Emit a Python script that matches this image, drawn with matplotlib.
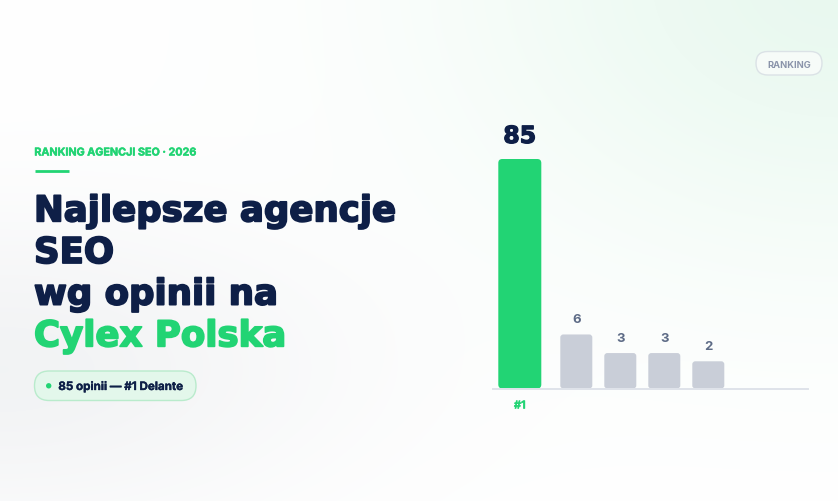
import numpy as np
import matplotlib
matplotlib.use('Agg')
import matplotlib.pyplot as plt
import matplotlib.patheffects as pe
from matplotlib.patches import FancyBboxPatch, Circle

# ---- data ----
values = [85, 6, 3, 3, 2]
value_labels = ['85', '6', '3', '3', '2']
rank_labels = ['#1', '', '', '', '']
kicker = 'RANKING AGENCJI SEO · 2026'
title_lines = ['Najlepsze agencje', 'SEO', 'wg opinii na']
title_accent = 'Cylex Polska'
badge_text = '85 opinii — #1 Delante'
corner_tag = 'RANKING'

W, H, DPI = 838, 502, 100
NAVY = '#0e1f47'
GREEN = '#22d474'
GRAY_BAR = '#c9ced8'
GRAY_TXT = '#5d6b86'
TITLE_FONT = ['DejaVu Sans']
BODY_FONT = ['Inter', 'DejaVu Sans']


def heavy(color, w=1.1):
    return [pe.withStroke(linewidth=w, foreground=color)]


fig = plt.figure(figsize=(W / DPI, H / DPI), dpi=DPI)
renderer = fig.canvas.get_renderer()

# background layer in pixel coordinates (y downwards)
bg = fig.add_axes([0, 0, 1, 1])
bg.axis('off')
yy, xx = np.mgrid[0:H, 0:W].astype(float)
img = np.ones((H, W, 3))
g = np.exp(-(((W - xx) / 380) ** 2 + ((yy + 20) / 280) ** 2))
green_tint = np.array([0.915, 0.975, 0.94])
img = img * (1 - g[..., None]) + green_tint * g[..., None]
gg = 0.85 * np.exp(-((xx / 330) ** 2 + ((yy - 370) / 150) ** 2))
gray_tint = np.array([0.94, 0.945, 0.952])
img = img * (1 - gg[..., None]) + gray_tint * gg[..., None]
bg.imshow(img, extent=(0, W, H, 0), aspect='auto', interpolation='bilinear', zorder=0)
bg.set_xlim(0, W)
bg.set_ylim(H, 0)


def fit(t, target):
    w = t.get_window_extent(renderer).width
    t.set_fontsize(t.get_fontsize() * target / w)


# ---- chart ----
base_px, top_px = 389.5, 160.0
ax = fig.add_axes([493 / W, (H - base_px) / H, 315 / W, (base_px - top_px) / H])
ax.patch.set_alpha(0)
ax.set_yscale('function', functions=(lambda v: np.sqrt(np.clip(v, 0, None)), np.square))
ax.set_ylim(0.133, max(values))
ax.set_xlim(0, 315)

widths = [43 if i == 0 else 32 for i in range(len(values))]
xs = []
cur = 5.3
for i, w in enumerate(widths):
    xs.append(cur + w / 2)
    cur += w + (19 if i == 0 else 12)
colors = [GREEN if i == 0 else GRAY_BAR for i in range(len(values))]

bars = ax.bar(xs, values, width=widths, color=colors)
ax_bb = ax.get_window_extent(renderer)
inv = bg.transData.inverted()
for rect, c, i in zip(bars, colors, range(len(values))):
    bb = rect.get_window_extent(renderer)
    y0 = max(bb.y0, ax_bb.y0)
    (px0, py0) = inv.transform((bb.x0, bb.y1))
    (px1, py1) = inv.transform((bb.x1, y0))
    rect.set_visible(False)
    r = 4 if i == 0 else 3
    bg.add_patch(FancyBboxPatch((px0, py0), px1 - px0, py1 - py0,
                                boxstyle=f'round,pad=0,rounding_size={r}',
                                fc=c, ec='none', zorder=3))

for sp in ['top', 'right', 'left']:
    ax.spines[sp].set_visible(False)
ax.spines['bottom'].set_color('#dfe3ea')
ax.spines['bottom'].set_linewidth(1.4)
ax.set_xticks([])
ax.set_yticks([])
ax.minorticks_off()
ax.tick_params(which='both', left=False, labelleft=False)

for i, (x, v, lab) in enumerate(zip(xs, values, value_labels)):
    if i == 0:
        ax.annotate(lab, (x, v), xytext=(0, 11), textcoords='offset pixels',
                    ha='center', va='bottom', color=NAVY, fontsize=17,
                    fontweight='bold', family=TITLE_FONT, path_effects=heavy(NAVY, 0.9))
    else:
        ax.annotate(lab, (x, v), xytext=(0, 9), textcoords='offset pixels',
                    ha='center', va='bottom', color=GRAY_TXT, fontsize=9.5,
                    fontweight='bold', family=BODY_FONT)
for x, lab in zip(xs, rank_labels):
    if lab:
        ax.annotate(lab, (x, 0.133), xytext=(0, -17), textcoords='offset pixels',
                    ha='center', va='center', color=GREEN, fontsize=7.8,
                    fontweight='bold', family=BODY_FONT, annotation_clip=False,
                    path_effects=heavy(GREEN, 0.3))

# ---- left text block ----
t = bg.text(34.3, 156.5, kicker, color=GREEN, fontsize=8.5, fontweight='bold',
            family=BODY_FONT, va='baseline', ha='left')
fit(t, 161)
t.set_path_effects(heavy(GREEN, 0.35))
bg.plot([34.7, 68.7], [172, 172], color=GREEN, lw=2.0, solid_capstyle='butt', zorder=3)

baselines = [222.3, 264.0, 305.6, 347.3]
t1 = bg.text(34.0, baselines[0], title_lines[0], color=NAVY, fontsize=27,
             fontweight='bold', family=TITLE_FONT, va='baseline', ha='left')
fit(t1, 362)
fs = t1.get_fontsize()
t1.set_path_effects(heavy(NAVY, 1.3))
for line, yb in zip(title_lines[1:], baselines[1:3]):
    bg.text(34.0, yb, line, color=NAVY, fontsize=fs, fontweight='bold',
            family=TITLE_FONT, va='baseline', ha='left', path_effects=heavy(NAVY, 1.3))
bg.text(34.0, baselines[3], title_accent, color=GREEN, fontsize=fs, fontweight='bold',
        family=TITLE_FONT, va='baseline', ha='left', path_effects=heavy(GREEN, 1.3))

# badge
bg.add_patch(FancyBboxPatch((34.5, 372), 161.5, 29.5,
                            boxstyle='round,pad=0,rounding_size=14.7',
                            fc='#e3f7eb', ec='#b9ebcc', lw=1.0, zorder=3))
bg.add_patch(Circle((48.7, 386.8), 2.7, fc=GREEN, ec='none', zorder=4))
tb = bg.text(58.3, 391.0, badge_text, color=NAVY, fontsize=9, fontweight='bold',
             family=BODY_FONT, va='baseline', ha='left', zorder=5)
fit(tb, 125)
tb.set_path_effects(heavy(NAVY, 0.25))

# corner tag
bg.add_patch(FancyBboxPatch((756, 52.5), 66, 23.5,
                            boxstyle='round,pad=0,rounding_size=11.7',
                            fc='#f6fbf8', ec='#dbe2e6', lw=1.0, zorder=3))
tt = bg.text(789, 68.0, corner_tag, color='#8a94aa', fontsize=7, fontweight='bold',
             family=BODY_FONT, va='baseline', ha='center', zorder=5)
fit(tt, 43.7)

fig.savefig('out.png', dpi=DPI)
